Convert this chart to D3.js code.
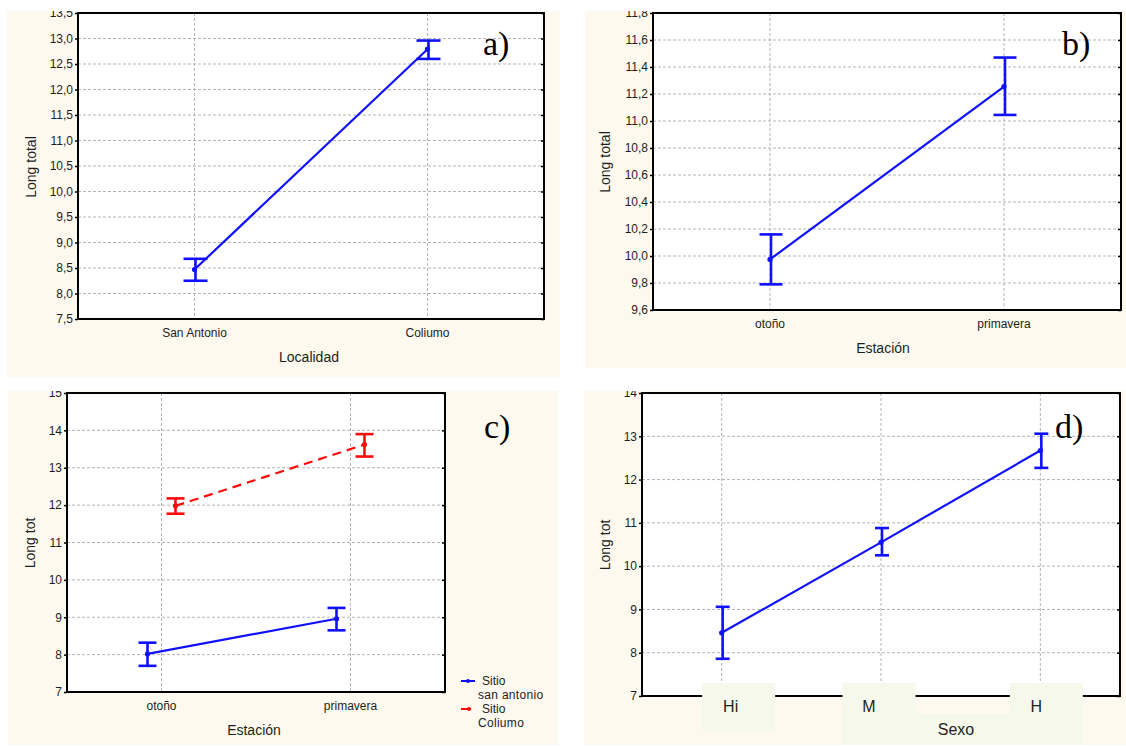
<!DOCTYPE html>
<html>
<head>
<meta charset="utf-8">
<script src="https://cdn.jsdelivr.net/npm/d3@7/dist/d3.min.js"></script>
<style>
  body { margin: 0; background: #fff; }
  svg { display: block; }
</style>
</head>
<body>
<div id="chart"></div>
<script>
// ---- data ----
// a) Long total by Localidad
const catsA = ["San Antonio", "Coliumo"];
const meanA = [8.47, 12.79];
const lowA = [8.25, 12.60];
const highA = [8.68, 12.96];
const ticksA = [7.5, 8.0, 8.5, 9.0, 9.5, 10.0, 10.5, 11.0, 11.5, 12.0, 12.5, 13.0, 13.5];

// b) Long total by Estación
const catsB = ["otoño", "primavera"];
const meanB = [9.975, 11.255];
const lowB = [9.79, 11.045];
const highB = [10.16, 11.47];
const ticksB = [9.6, 9.8, 10.0, 10.2, 10.4, 10.6, 10.8, 11.0, 11.2, 11.4, 11.6, 11.8];

// c) Long tot by Estación, two sites
const catsC = ["otoño", "primavera"];
const meanSanAntonio = [8.02, 8.96];
const lowSanAntonio = [7.70, 8.65];
const highSanAntonio = [8.32, 9.25];
const meanColiumo = [11.98, 13.62];
const lowColiumo = [11.77, 13.30];
const highColiumo = [12.18, 13.90];
const legendC = [["Sitio", "san antonio"], ["Sitio", "Coliumo"]];
const ticksC = [7, 8, 9, 10, 11, 12, 13, 14, 15];

// d) Long tot by Sexo
const catsD = ["Hi", "M", "H"];
const meanD = [8.46, 10.55, 12.67];
const lowD = [7.86, 10.25, 12.27];
const highD = [9.06, 10.88, 13.06];
const ticksD = [7, 8, 9, 10, 11, 12, 13, 14];

// ---- drawing ----
const W = 1126, H = 746;
const BLUE = "#1010ff", RED = "#ff0a0a";
const CREAM = "#fdf9ee", INK = "#1e1e1e";

const comma = d3.formatLocale({ decimal: ",", thousands: ".", grouping: [3], currency: ["", ""] });
const fmt1 = comma.format(".1f");
const fmt0 = comma.format("d");

const svg = d3.select("#chart").append("svg")
  .attr("width", W).attr("height", H)
  .style("font-family", "'Liberation Sans', Arial, sans-serif");

svg.append("rect").attr("width", W).attr("height", H).attr("fill", "#fff");

function drawPanel(cfg) {
  const c = cfg.cream, f = cfg.frame;

  svg.append("clipPath").attr("id", "clip-" + cfg.id)
    .append("rect").attr("x", c.x).attr("y", c.y).attr("width", c.w).attr("height", c.h);

  const g = svg.append("g").attr("clip-path", `url(#clip-${cfg.id})`);

  g.append("rect").attr("x", c.x).attr("y", c.y).attr("width", c.w).attr("height", c.h)
    .attr("fill", CREAM);

  g.append("rect").attr("x", f.l).attr("y", f.t).attr("width", f.r - f.l).attr("height", f.b - f.t)
    .attr("fill", "#fff");

  const x = d3.scalePoint().domain(cfg.cats).range([f.l, f.r]).padding(0.5);
  const y = d3.scaleLinear().domain(d3.extent(cfg.ticks)).range([f.b, f.t]);

  // grid
  g.append("g").selectAll("line")
    .data(cfg.ticks.slice(1, -1))
    .join("line")
    .attr("x1", f.l).attr("x2", f.r)
    .attr("y1", d => y(d)).attr("y2", d => y(d))
    .attr("stroke", "#b4b4b4").attr("stroke-width", 1).attr("stroke-dasharray", "3,2");

  g.append("g").selectAll("line")
    .data(cfg.cats)
    .join("line")
    .attr("x1", d => x(d)).attr("x2", d => x(d))
    .attr("y1", f.t).attr("y2", f.b)
    .attr("stroke", "#b4b4b4").attr("stroke-width", 1).attr("stroke-dasharray", "3,2");

  // y axis
  const ya = g.append("g").attr("transform", `translate(${f.l},0)`)
    .call(d3.axisLeft(y).tickValues(cfg.ticks).tickFormat(cfg.fmt).tickSize(3).tickPadding(2));
  ya.select(".domain").remove();
  ya.selectAll("line").attr("stroke", "#000").attr("stroke-width", 1.5);
  ya.selectAll("text").attr("fill", INK).style("font-size", "12px");

  const yr = g.append("g").attr("transform", `translate(${f.r},0)`)
    .call(d3.axisLeft(y).tickValues(cfg.ticks).tickFormat("").tickSize(3));
  yr.select(".domain").remove();
  yr.selectAll("line").attr("stroke", "#000").attr("stroke-width", 1.5);

  // frame
  g.append("rect").attr("x", f.l).attr("y", f.t).attr("width", f.r - f.l).attr("height", f.b - f.t)
    .attr("fill", "none").attr("stroke", "#000").attr("stroke-width", 2);

  // label boxes (panel d) sit on top of the frame's bottom edge
  if (cfg.boxes) {
    g.append("g").selectAll("rect")
      .data(cfg.cats)
      .join("rect")
      .attr("x", (d, i) => x(d) + cfg.boxes.dx[i] - cfg.boxes.w / 2)
      .attr("y", cfg.boxes.y)
      .attr("width", cfg.boxes.w)
      .attr("height", (d, i) => cfg.boxes.h[i])
      .attr("fill", cfg.boxes.fill);
    g.append("rect")
      .attr("x", x(cfg.cats[1]) + cfg.boxes.dx[1] - cfg.boxes.w / 2)
      .attr("y", cfg.boxes.stripY)
      .attr("width", x(cfg.cats[2]) + cfg.boxes.dx[2] - x(cfg.cats[1]) - cfg.boxes.dx[1])
      .attr("height", c.y + c.h - cfg.boxes.stripY)
      .attr("fill", cfg.boxes.fill);
  }

  g.append("g").selectAll("text")
    .data(cfg.cats)
    .join("text")
    .attr("x", (d, i) => x(d) + (cfg.labelDx ? cfg.labelDx[i] : 0))
    .attr("y", cfg.tickY)
    .attr("text-anchor", "middle")
    .attr("fill", INK)
    .style("font-size", (cfg.catSize || 12) + "px")
    .text(d => d);

  // series
  cfg.series.forEach(s => {
    const px = i => x(cfg.cats[i]) + (s.dx || 0);
    const line = d3.line().x((d, i) => px(i)).y(d => y(d));
    g.append("path").datum(s.mean).attr("d", line)
      .attr("fill", "none").attr("stroke", s.color).attr("stroke-width", 2.2)
      .attr("stroke-dasharray", s.dash || null);

    const eb = g.append("g").attr("stroke", s.color).attr("stroke-width", 2.6);
    s.mean.forEach((m, i) => {
      const cx = px(i) + (cfg.capShift || 0);
      eb.append("line").attr("x1", cx).attr("x2", cx).attr("y1", y(s.low[i])).attr("y2", y(s.high[i]));
      eb.append("line").attr("x1", cx - cfg.capW / 2).attr("x2", cx + cfg.capW / 2)
        .attr("y1", y(s.low[i])).attr("y2", y(s.low[i]));
      eb.append("line").attr("x1", cx - cfg.capW / 2).attr("x2", cx + cfg.capW / 2)
        .attr("y1", y(s.high[i])).attr("y2", y(s.high[i]));
    });

    g.append("g").selectAll("circle")
      .data(s.mean)
      .join("circle")
      .attr("cx", (d, i) => px(i))
      .attr("cy", d => y(d))
      .attr("r", 2.6)
      .attr("fill", s.color);
  });

  // axis titles
  g.append("text")
    .attr("transform", `translate(${cfg.yLabel.x},${cfg.yLabel.y}) rotate(-90)`)
    .attr("text-anchor", "middle")
    .attr("dy", "0.35em")
    .attr("fill", INK)
    .style("font-size", "14px")
    .text(cfg.yLabel.text);

  g.append("text")
    .attr("x", cfg.xLabel.x).attr("y", cfg.xLabel.y)
    .attr("text-anchor", "middle")
    .attr("fill", INK)
    .style("font-size", (cfg.xLabel.size || 14) + "px")
    .text(cfg.xLabel.text);

  // panel letter
  g.append("text")
    .attr("x", cfg.letter.x).attr("y", cfg.letter.y)
    .attr("fill", "#000")
    .style("font-family", "'Liberation Serif', 'Times New Roman', serif")
    .style("font-size", "34px")
    .text(cfg.letter.text);

  return { g, x, y };
}

drawPanel({
  id: "a",
  cream: { x: 7, y: 11, w: 553, h: 366 },
  frame: { l: 78, r: 544, t: 13, b: 319 },
  cats: catsA, ticks: ticksA, fmt: fmt1,
  series: [{ mean: meanA, low: lowA, high: highA, color: BLUE }],
  capW: 24, capShift: 1,
  tickY: 337,
  yLabel: { text: "Long total", x: 31, y: 167 },
  xLabel: { text: "Localidad", x: 309, y: 362 },
  letter: { text: "a)", x: 483, y: 55 }
});

drawPanel({
  id: "b",
  cream: { x: 585, y: 11, w: 541, h: 357 },
  frame: { l: 653, r: 1121, t: 13, b: 310 },
  cats: catsB, ticks: ticksB, fmt: fmt1,
  series: [{ mean: meanB, low: lowB, high: highB, color: BLUE }],
  capW: 23, capShift: 1,
  tickY: 328,
  yLabel: { text: "Long total", x: 605, y: 162 },
  xLabel: { text: "Estación", x: 883, y: 353 },
  letter: { text: "b)", x: 1062, y: 55 }
});

const pc = drawPanel({
  id: "c",
  cream: { x: 8, y: 391, w: 550, h: 354 },
  frame: { l: 67, r: 445, t: 393, b: 692 },
  cats: catsC, ticks: ticksC, fmt: fmt0,
  series: [
    { mean: meanSanAntonio, low: lowSanAntonio, high: highSanAntonio, color: BLUE, dx: -14 },
    { mean: meanColiumo, low: lowColiumo, high: highColiumo, color: RED, dx: 14, dash: "9,6" }
  ],
  capW: 18,
  tickY: 710,
  yLabel: { text: "Long tot", x: 30, y: 543 },
  xLabel: { text: "Estación", x: 254, y: 735 },
  letter: { text: "c)", x: 484, y: 438 }
});

// legend for panel c
const legColors = [BLUE, RED];
const leg = pc.g.append("g").selectAll("g")
  .data(legendC)
  .join("g")
  .attr("transform", (d, i) => `translate(461,${681 + i * 28})`);
leg.append("line")
  .attr("x1", 0).attr("x2", (d, i) => i === 0 ? 14 : 10)
  .attr("stroke", (d, i) => legColors[i]).attr("stroke-width", 2);
leg.append("circle").attr("cx", (d, i) => i === 0 ? 7 : 8).attr("r", 2)
  .attr("fill", (d, i) => legColors[i]);
leg.append("text").attr("x", 21).attr("y", 4).attr("fill", INK)
  .style("font-size", "12px").text(d => d[0]);
leg.append("text").attr("x", 17).attr("y", 18).attr("fill", INK)
  .style("font-size", "12px").style("letter-spacing", "0.3px").text(d => d[1]);

drawPanel({
  id: "d",
  cream: { x: 584, y: 391, w: 542, h: 354 },
  frame: { l: 642, r: 1120, t: 393, b: 696 },
  cats: catsD, ticks: ticksD, fmt: fmt0,
  series: [{ mean: meanD, low: lowD, high: highD, color: BLUE }],
  capW: 14, capShift: 1,
  tickY: 712, catSize: 16, labelDx: [9, -12, -4],
  boxes: { w: 73, y: 683, h: [49, 62, 62], dx: [17, -2, 6], stripY: 714, fill: "#f6f8ec" },
  yLabel: { text: "Long tot", x: 605, y: 545 },
  xLabel: { text: "Sexo", x: 956, y: 735, size: 16 },
  letter: { text: "d)", x: 1055, y: 438 }
});
</script>
</body>
</html>
